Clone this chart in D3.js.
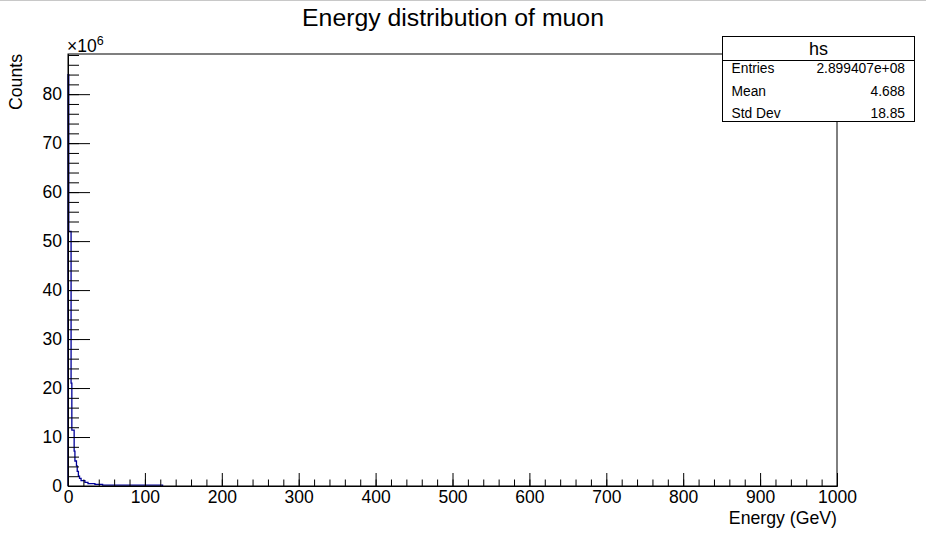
<!DOCTYPE html>
<html>
<head>
<meta charset="utf-8">
<script src="https://cdn.jsdelivr.net/npm/d3@7"></script>
<style>
  html, body { margin: 0; padding: 0; background: #fff; }
  svg { display: block; font-family: "Liberation Sans", Arial, Helvetica, sans-serif; }
</style>
</head>
<body>
<svg id="chart" width="926" height="533"></svg>
<script>
// ---- data ----
// bin edges in GeV (steps of the drawn histogram) and counts per 1 GeV bin, in units of 10^6
const binEdges = [0, 1, 4, 5, 8, 9, 11, 12, 13.5, 15, 17, 22, 26, 35, 45, 123];
const binCounts = [84.0, 52.0, 21.0, 11.4, 7.1, 5.1, 4.1, 3.0, 2.0, 1.55, 1.08, 0.75, 0.47, 0.33, 0.18];
const xMajorTicks = [0, 100, 200, 300, 400, 500, 600, 700, 800, 900, 1000];
const yMajorTicks = [0, 10, 20, 30, 40, 50, 60, 70, 80];
const xMinorTicks = d3.range(0, 1001, 20);
const yMinorTicks = d3.range(0, 88.2, 2);
const statsLabels = ["Entries", "Mean", "Std Dev"];
const statsValues = ["2.899407e+08", "4.688", "18.85"];
const chartTitle = "Energy distribution of muon";
const histName = "hs";
const xTitle = "Energy (GeV)";
const yTitle = "Counts";

// ---- layout ----
const frame = { left: 68, right: 837, top: 54, bottom: 486 };
const svg = d3.select("#chart");
const FONT = "'Liberation Sans', Arial, sans-serif";

const x = d3.scaleLinear().domain([0, 1000]).range([frame.left, frame.right]);
const y = d3.scaleLinear().domain([0, 88.2]).range([frame.bottom, frame.top]);

// top canvas border
svg.append("line").attr("x1", 0).attr("x2", 926).attr("y1", 0.5).attr("y2", 0.5)
  .attr("stroke", "#c8c8c8").attr("stroke-width", 1);

// histogram path
const pts = [[binEdges[0], 0]];
binCounts.forEach((c, i) => { pts.push([binEdges[i], c]); pts.push([binEdges[i + 1], c]); });
pts.push([binEdges[binEdges.length - 1], 0]);
const line = d3.line().x(d => x(d[0])).y(d => y(d[1]));
svg.append("path").attr("d", line(pts))
  .attr("fill", "none").attr("stroke", "#000099").attr("stroke-width", 1.3);

// frame
svg.append("rect")
  .attr("x", frame.left).attr("y", frame.top)
  .attr("width", frame.right - frame.left).attr("height", frame.bottom - frame.top)
  .attr("fill", "none").attr("stroke", "#000").attr("stroke-width", 1);

// x axis
const gx = svg.append("g").attr("transform", `translate(0,${frame.bottom})`);
gx.call(d3.axisBottom(x).tickValues(xMinorTicks).tickFormat("").tickSize(-6.5).tickSizeOuter(0));
gx.append("g").call(d3.axisBottom(x).tickValues(xMajorTicks).tickFormat(d3.format("d"))
  .tickSize(-13).tickSizeOuter(0).tickPadding(5));
gx.selectAll("path.domain").attr("stroke", "#000");
gx.selectAll("line").attr("stroke", "#000");
gx.selectAll("text").attr("font-size", 17.5).attr("fill", "#000").attr("font-family", FONT);

// y axis
const gy = svg.append("g").attr("transform", `translate(${frame.left},0)`);
gy.call(d3.axisLeft(y).tickValues(yMinorTicks).tickFormat("").tickSize(-11).tickSizeOuter(0));
gy.append("g").call(d3.axisLeft(y).tickValues(yMajorTicks).tickFormat(d3.format("d"))
  .tickSize(-22).tickSizeOuter(0).tickPadding(6));
gy.selectAll("path.domain").attr("stroke", "#000");
gy.selectAll("line").attr("stroke", "#000");
gy.selectAll("text").attr("font-size", 17.5).attr("fill", "#000").attr("font-family", FONT);

// exponent label
const expo = svg.append("text").attr("x", frame.left - 1).attr("y", 52)
  .attr("font-size", 17.5).attr("fill", "#000");
expo.append("tspan").text("\u00d710");
expo.append("tspan").attr("dy", -7).attr("font-size", 12.5).text("6");

// axis titles
svg.append("text").attr("x", frame.right).attr("y", 524)
  .attr("text-anchor", "end").attr("font-size", 17.7).attr("fill", "#000").text(xTitle);
svg.append("text")
  .attr("transform", `translate(22,${frame.top}) rotate(-90)`)
  .attr("text-anchor", "end").attr("font-size", 17.7).attr("fill", "#000").text(yTitle);

// title
svg.append("text").attr("x", 453).attr("y", 26)
  .attr("text-anchor", "middle").attr("font-size", 24.8).attr("fill", "#000").text(chartTitle);

// stats box
const sb = { x: 722.5, y: 36.5, w: 192, h: 85, sep: 60.5 };
const gs = svg.append("g");
gs.append("rect").attr("x", sb.x).attr("y", sb.y).attr("width", sb.w).attr("height", sb.h)
  .attr("fill", "#fff").attr("stroke", "#000").attr("stroke-width", 1);
gs.append("line").attr("x1", sb.x).attr("x2", sb.x + sb.w).attr("y1", sb.sep).attr("y2", sb.sep)
  .attr("stroke", "#000").attr("stroke-width", 1);
gs.append("text").attr("x", sb.x + sb.w / 2).attr("y", 55)
  .attr("text-anchor", "middle").attr("font-size", 18).attr("fill", "#000").text(histName);
const rowY = d3.scalePoint().domain(statsLabels).range([73, 118]);
statsLabels.forEach((lab, i) => {
  gs.append("text").attr("x", 731.5).attr("y", rowY(lab))
    .attr("font-size", 13.8).attr("fill", "#000").text(lab);
  gs.append("text").attr("x", 905).attr("y", rowY(lab)).attr("text-anchor", "end")
    .attr("font-size", 13.8).attr("fill", "#000").text(statsValues[i]);
});
</script>
</body>
</html>
